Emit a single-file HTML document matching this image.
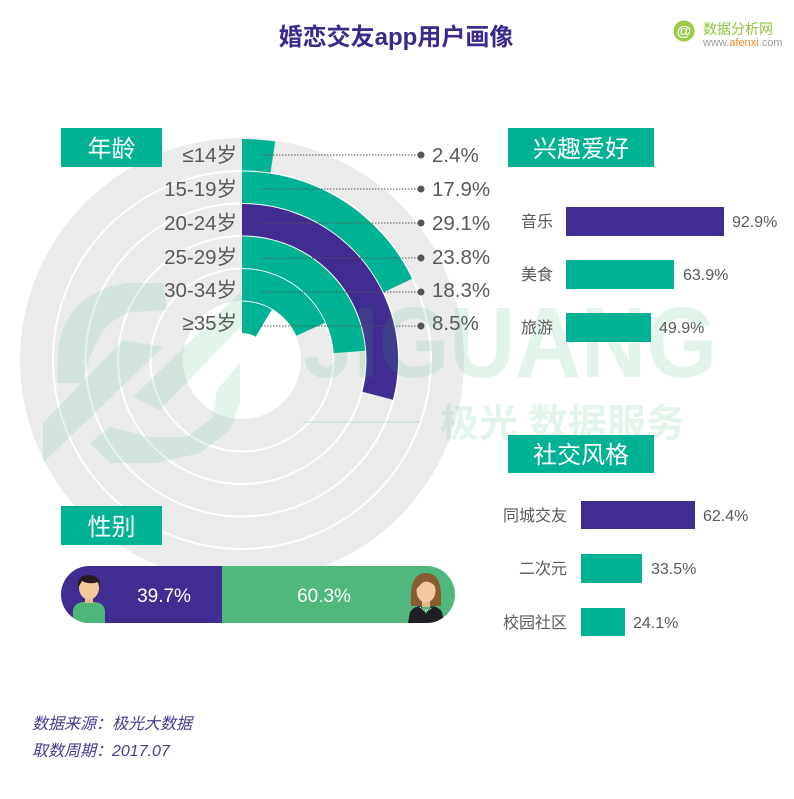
<!DOCTYPE html>
<html>
<head>
<meta charset="utf-8">
<style>
  html,body{margin:0;padding:0;background:#fff;}
  svg{display:block;}
  text{font-family:"Liberation Sans","Noto Sans CJK SC",sans-serif;}
</style>
</head>
<body>
<svg width="794" height="799" viewBox="0 0 794 799" xmlns="http://www.w3.org/2000/svg">
  <defs>
    <clipPath id="gclip">
      <rect x="61" y="566" width="394" height="57" rx="28.5" ry="28.5"/>
    </clipPath>
  </defs>
  <rect width="794" height="799" fill="#fff"/>

  <!-- Title -->
  <text x="396" y="45" text-anchor="middle" font-size="24" font-weight="bold" fill="#3B2A8B">婚恋交友app用户画像</text>

  <!-- afenxi logo -->
  <circle cx="684" cy="31" r="10.5" fill="#9CCB4A"/>
  <text x="684" y="36" text-anchor="middle" font-size="15" font-weight="bold" fill="#fff">@</text>
  <text x="703" y="34" font-size="14" fill="#8CC43F">数据分析网</text>
  <text x="703" y="46" font-size="11" fill="#9A9A9A">www.<tspan fill="#F08A24">afenxi</tspan>.com</text>

  <!-- Background disk -->
  <circle cx="242" cy="360" r="222" fill="#EBEBEB"/>
  <g fill="none" stroke="#fff" stroke-width="2">
    <circle cx="242" cy="360" r="189"/>
    <circle cx="242" cy="360" r="156.5"/>
    <circle cx="242" cy="360" r="124"/>
    <circle cx="242" cy="360" r="91.5"/>
  </g>
  <circle cx="242" cy="360" r="59" fill="#fff"/>

  <!-- Polar bars -->
  <path d="M242,139 A221,221 0 0 1 275.2,141.5 L270.5,172.6 A189.5,189.5 0 0 0 242,170.5 Z" fill="#00B294"/>
  <path d="M242,171.5 A188.5,188.5 0 0 1 412.1,278.7 L383.6,292.3 A157,157 0 0 0 242,203 Z" fill="#00B294"/>
  <path d="M242,204 A156,156 0 0 1 392.9,399.7 L362.4,391.7 A124.5,124.5 0 0 0 242,235.5 Z" fill="#412D91"/>
  <path d="M242,236.5 A123.5,123.5 0 0 1 365.1,350.7 L333.7,353.1 A92,92 0 0 0 242,268 Z" fill="#00B294"/>
  <path d="M242,269 A91,91 0 0 1 325.1,322.8 L296.3,335.7 A59.5,59.5 0 0 0 242,300.5 Z" fill="#00B294"/>
  <path d="M242,301.5 A58.5,58.5 0 0 1 271.8,309.6 L255.7,336.8 A27,27 0 0 0 242,333 Z" fill="#00B294"/>

  <!-- Watermark -->
  <g fill="#2DB36F" opacity="0.13">
    <path d="M57,383 L58,350 Q62,320 80,303 Q100,287 127,283 L163,283 L167,310 L133,312 Q115,316 104,330 Q90,350 83,383 Z"/>
    <path d="M43,423 L123,340 L163,347 L43,463 Z"/>
    <path d="M133,397 L240,293 L250,317 L160,410 Z"/>
    <path d="M90,443 L110,427 L150,437 L187,437 L213,417 L217,390 L240,363 L240,403 L230,430 L200,453 L157,463 L110,463 Z"/>
    <text x="303" y="377" font-size="100" font-weight="bold" textLength="414" lengthAdjust="spacingAndGlyphs">JIGUANG</text>
    <text x="440" y="437" font-size="39" font-weight="bold">极光 数据服务</text>
    <rect x="303" y="421" width="117" height="2"/>
  </g>

  <!-- Dotted leader lines -->
  <g stroke="#555" stroke-width="1" stroke-dasharray="1.5,1.5">
    <line x1="261" y1="155" x2="421" y2="155"/>
    <line x1="261" y1="189" x2="421" y2="189"/>
    <line x1="261" y1="223" x2="421" y2="223"/>
    <line x1="261" y1="258" x2="421" y2="258"/>
    <line x1="261" y1="292" x2="421" y2="292"/>
    <line x1="261" y1="326" x2="421" y2="326"/>
  </g>
  <g fill="#555">
    <circle cx="421" cy="155" r="3.5"/>
    <circle cx="421" cy="189" r="3.5"/>
    <circle cx="421" cy="223" r="3.5"/>
    <circle cx="421" cy="258" r="3.5"/>
    <circle cx="421" cy="292" r="3.5"/>
    <circle cx="421" cy="326" r="3.5"/>
  </g>

  <!-- Age labels -->
  <g font-size="20.5" fill="#595959" text-anchor="end">
    <text x="237" y="162">≤14岁</text>
    <text x="237" y="196">15-19岁</text>
    <text x="237" y="230">20-24岁</text>
    <text x="237" y="264">25-29岁</text>
    <text x="237" y="297">30-34岁</text>
    <text x="237" y="330">≥35岁</text>
  </g>
  <g font-size="20.5" fill="#595959">
    <text x="432" y="162">2.4%</text>
    <text x="432" y="196">17.9%</text>
    <text x="432" y="230">29.1%</text>
    <text x="432" y="264">23.8%</text>
    <text x="432" y="297">18.3%</text>
    <text x="432" y="330">8.5%</text>
  </g>

  <!-- Section headers -->
  <rect x="61" y="128" width="101" height="39" fill="#00B294"/>
  <text x="111.5" y="157" text-anchor="middle" font-size="24" fill="#fff">年龄</text>
  <rect x="508" y="128" width="146" height="39" fill="#00B294"/>
  <text x="581" y="157" text-anchor="middle" font-size="24" fill="#fff">兴趣爱好</text>
  <rect x="508" y="435" width="146" height="38" fill="#00B294"/>
  <text x="581" y="463" text-anchor="middle" font-size="24" fill="#fff">社交风格</text>
  <rect x="61" y="506" width="101" height="39" fill="#00B294"/>
  <text x="111.5" y="535" text-anchor="middle" font-size="24" fill="#fff">性别</text>

  <!-- Interests -->
  <rect x="566" y="207" width="158" height="29" fill="#412D91"/>
  <rect x="566" y="260" width="108" height="29" fill="#00B294"/>
  <rect x="566" y="313" width="85" height="29" fill="#00B294"/>
  <g font-size="16" fill="#595959">
    <text x="521" y="227">音乐</text>
    <text x="521" y="280">美食</text>
    <text x="521" y="333">旅游</text>
    <text x="732" y="227">92.9%</text>
    <text x="683" y="280">63.9%</text>
    <text x="659" y="333">49.9%</text>
  </g>

  <!-- Social -->
  <rect x="581" y="501" width="114" height="28" fill="#412D91"/>
  <rect x="581" y="554" width="61" height="29" fill="#00B294"/>
  <rect x="581" y="608" width="44" height="28" fill="#00B294"/>
  <g font-size="16" fill="#595959">
    <text x="567" y="521" text-anchor="end">同城交友</text>
    <text x="567" y="574" text-anchor="end">二次元</text>
    <text x="567" y="628" text-anchor="end">校园社区</text>
    <text x="703" y="521">62.4%</text>
    <text x="651" y="574">33.5%</text>
    <text x="633" y="628">24.1%</text>
  </g>

  <!-- Gender bar -->
  <g clip-path="url(#gclip)">
    <rect x="61" y="566" width="161" height="57" fill="#412D91"/>
    <rect x="222" y="566" width="233" height="57" fill="#50B87C"/>
    <!-- male icon -->
    <path d="M73,623 L73,611 Q74,603 83,602 L95,602 Q104,603 105,611 L105,623 Z" fill="#4DB77A"/>
    <rect x="85" y="594" width="8" height="9" fill="#E9B88A"/>
    <ellipse cx="89" cy="588" rx="10" ry="11.5" fill="#F4C99B"/>
    <path d="M78,588 Q77,575 89,575 Q101,575 100,588 L98,582 Q90,585 82,581 Z" fill="#2A1A1C"/>
    <!-- female icon -->
    <path d="M411,600 Q410,573 426,573 Q442,573 441,600 L441,606 L411,606 Z" fill="#8A5A30"/>
    <rect x="422" y="597" width="8" height="10" fill="#E9B88A"/>
    <ellipse cx="426" cy="591" rx="9.5" ry="11.5" fill="#F2C9A0"/>
    <path d="M416,583 Q420,576 428,577 Q436,578 437,588 Q430,580 424,582 Q420,584 416,590 Z" fill="#8A5A30"/>
    <path d="M408,623 L410,612 Q414,606 421,606 L426,614 L431,606 Q438,606 442,612 L444,623 Z" fill="#1E1E24"/>
    <path d="M420,607 Q426,614 432,607" fill="none" stroke="#fff" stroke-width="1.2" stroke-dasharray="1,1"/>
  </g>
  <text x="164" y="602" text-anchor="middle" font-size="19" fill="#fff">39.7%</text>
  <text x="324" y="602" text-anchor="middle" font-size="19" fill="#fff">60.3%</text>

  <!-- Footer -->
  <g font-size="16" font-style="italic" fill="#4A3A8E">
    <text x="32" y="729">数据来源：极光大数据</text>
    <text x="32" y="756">取数周期：2017.07</text>
  </g>
</svg>
</body>
</html>
